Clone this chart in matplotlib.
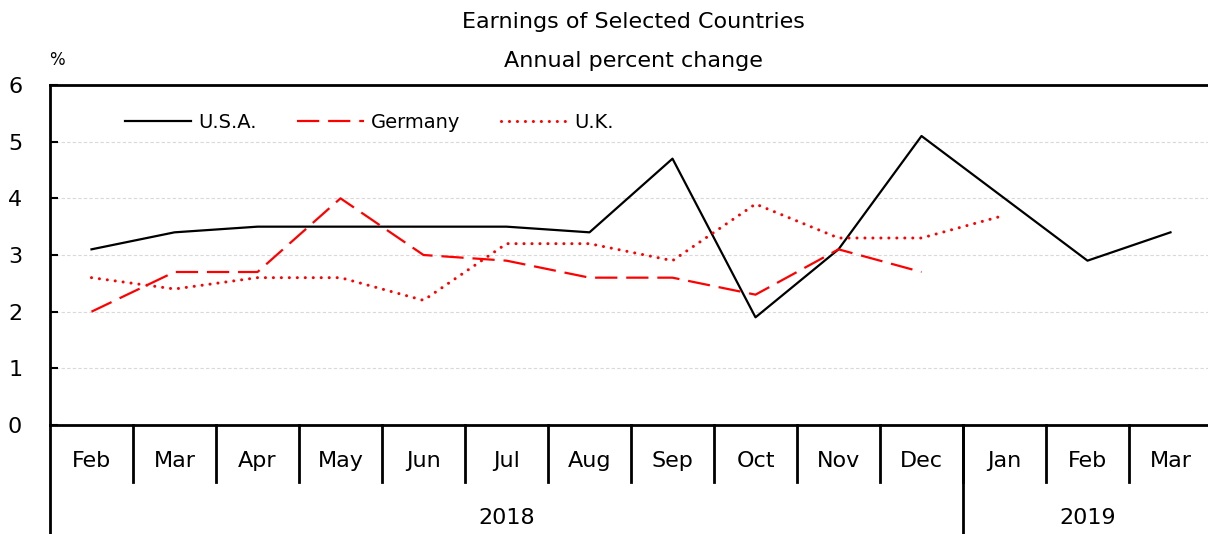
import matplotlib
matplotlib.use("Agg")
import matplotlib.pyplot as plt
import numpy as np

months = ["Feb", "Mar", "Apr", "May", "Jun", "Jul", "Aug", "Sep", "Oct", "Nov", "Dec", "Jan", "Feb", "Mar"]
years = ["2018", "2019"]
year_counts = [11, 3]
usa = [3.1, 3.4, 3.5, 3.5, 3.5, 3.5, 3.4, 4.7, 1.9, 3.1, 5.1, 4.0, 2.9, 3.4]
germany = [2.0, 2.7, 2.7, 4.0, 3.0, 2.9, 2.6, 2.6, 2.3, 3.1, 2.7]
uk = [2.6, 2.4, 2.6, 2.6, 2.2, 3.2, 3.2, 2.9, 3.9, 3.3, 3.3, 3.7]
yticks = [0, 1, 2, 3, 4, 5, 6]

plt.rcParams['font.family'] = ['DejaVu Sans']
W, H = 1208, 534
fig = plt.figure(figsize=(W / 100, H / 100), dpi=100)
left, right, top, bottom = 50, 1212, 85, 425
ax = fig.add_axes([left / W, (H - bottom) / H, (right - left) / W, (bottom - top) / H])

x = np.arange(len(months))
ax.plot(x, usa, color="black", lw=1.6, label="U.S.A.")
ax.plot(x[:len(germany)], germany, color="red", lw=1.6, dashes=(10, 4), label="Germany")
ax.plot(x[:len(uk)], uk, color="red", lw=2.2, linestyle=(0, (0.01, 2.6)), dash_capstyle="round", label="U.K.")

ax.set_xlim(-0.5, len(months) - 0.5)
ax.set_ylim(0, 6)
ax.set_yticks(yticks)
ax.set_yticklabels([str(v) for v in yticks], fontsize=16)
ax.tick_params(axis="y", direction="in", length=6, width=1.5, pad=20)
for v in yticks[1:-1]:
    ax.axhline(v, color="#d9d9d9", lw=0.8, ls=(0, (3, 2)), zorder=0)

ax.spines["right"].set_visible(False)
for s in ["left", "top", "bottom"]:
    ax.spines[s].set_linewidth(2)

# x category axis
ax.set_xticks([])
trans = ax.get_xaxis_transform()
sep_len = 57 / (bottom - top)
for i in range(1, len(months)):
    ax.plot([i - 0.5, i - 0.5], [0, -sep_len], transform=trans, color="black", lw=2, clip_on=False)
for i, m in enumerate(months):
    ax.text(i, -36 / (bottom - top), m, transform=trans, ha="center", va="center", fontsize=16)
# year groups
full = (H - bottom) / (bottom - top) + 0.01
start = 0
bounds = [-0.5]
for c in year_counts:
    start += c
    bounds.append(start - 0.5)
for b in bounds[:-1]:
    ax.plot([b, b], [0, -full], transform=trans, color="black", lw=2, clip_on=False)
for yname, a, b in zip(years, bounds[:-1], bounds[1:]):
    ax.text((a + b) / 2, -93 / (bottom - top), yname, transform=trans, ha="center", va="center", fontsize=16)

fig.text(633 / W, 1 - 22 / H, "Earnings of Selected Countries", ha="center", va="center", fontsize=16)
fig.text(633 / W, 1 - 61 / H, "Annual percent change", ha="center", va="center", fontsize=16)
fig.text(57 / W, 1 - 60 / H, "%", ha="center", va="center", fontsize=12)

leg = ax.legend(loc="center left", bbox_to_anchor=(75 / (right - left), 1 - 37 / (bottom - top)),
                ncol=3, frameon=False, fontsize=14, handlelength=3.4, handletextpad=0.36,
                columnspacing=2.1, borderaxespad=0, borderpad=0)

fig.savefig("out.png", dpi=100)
